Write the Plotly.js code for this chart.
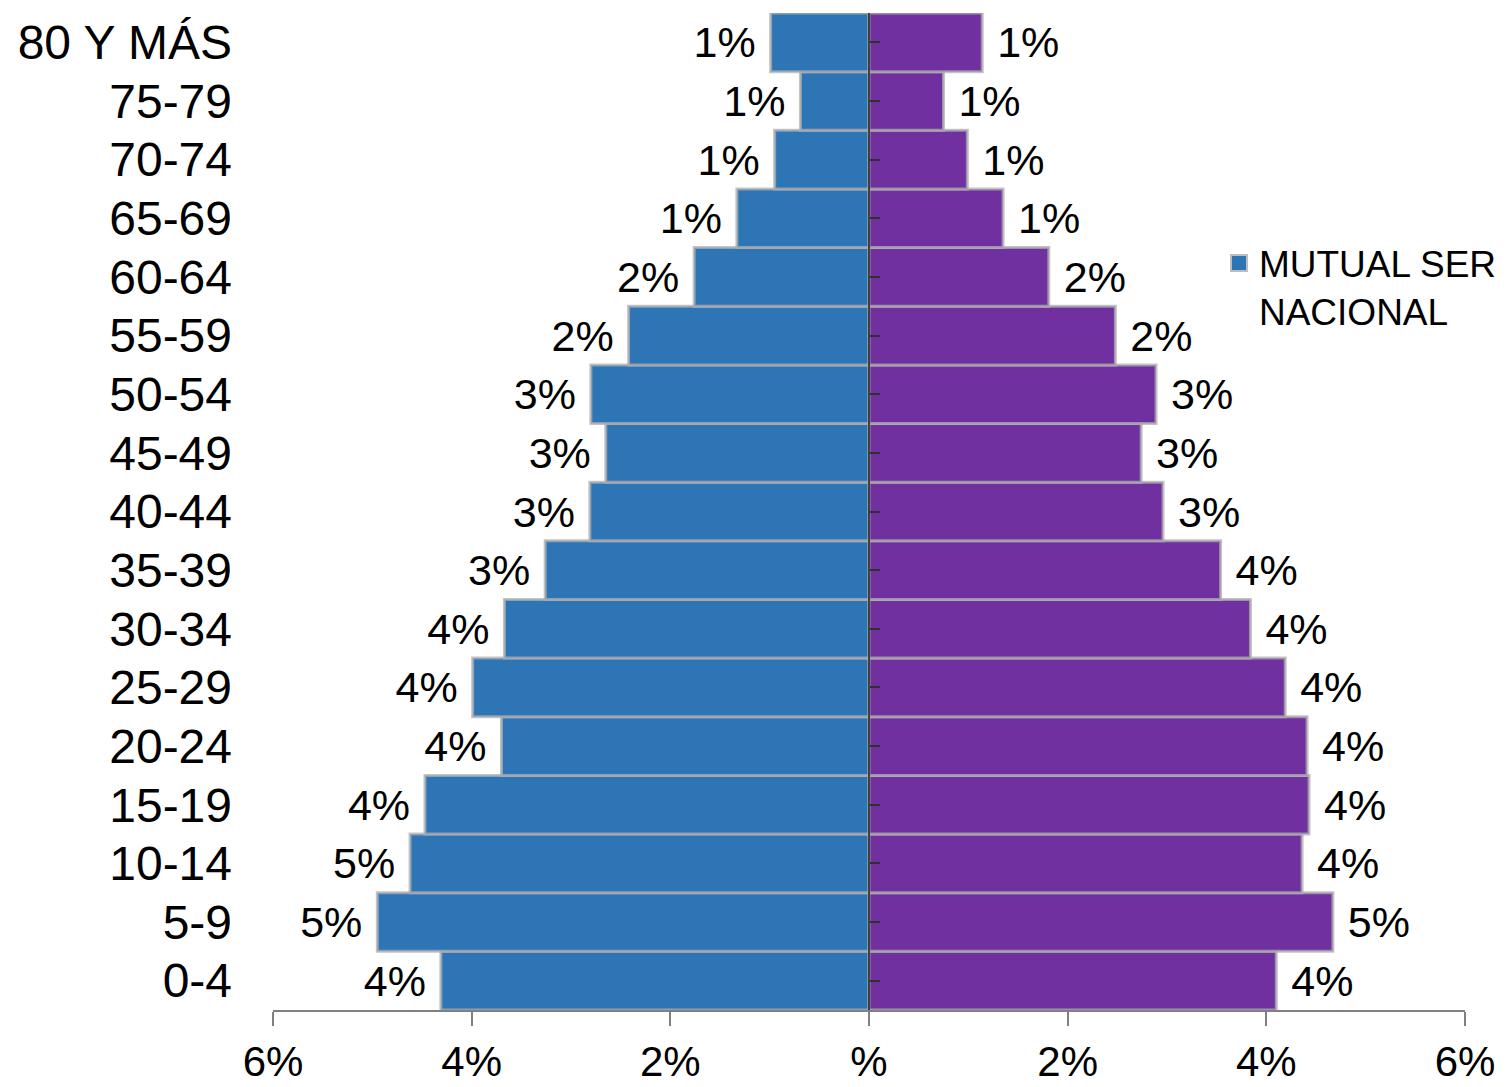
<!DOCTYPE html>
<html>
<head>
<meta charset="utf-8">
<script src="https://cdn.plot.ly/plotly-3.0.1.min.js"></script>
<style>html,body{margin:0;padding:0;background:#fff;}#chart{width:1506px;height:1087px;}</style>
</head>
<body>
<div id="chart"></div>
<script>
// Age groups, bottom to top
var ageGroups = ['0-4','5-9','10-14','15-19','20-24','25-29','30-34','35-39','40-44','45-49','50-54','55-59','60-64','65-69','70-74','75-79','80 Y MÁS'];
// Percent of population
var mutualSer = [4.31,4.95,4.62,4.47,3.70,3.99,3.67,3.26,2.81,2.65,2.80,2.42,1.76,1.33,0.95,0.69,0.99];
var nacional  = [4.10,4.67,4.36,4.43,4.41,4.19,3.84,3.54,2.96,2.74,2.89,2.48,1.81,1.35,0.99,0.75,1.14];
// X axis ticks
var xTickVals = [-6,-4,-2,0,2,4,6];
var xTickText = ['6%','4%','2%','%','2%','4%','6%'];
var legendName = 'MUTUAL SER<br>NACIONAL';

var regular = '"Liberation Sans", Arial, sans-serif';
var borderLine = {color:'rgba(175,175,175,0.75)', width:3};
var blue = '#2E75B6', purple = '#7030A0';

var traces = [
  {
    type:'bar', orientation:'h', name:'MUTUAL SER', showlegend:false,
    y: ageGroups, x: mutualSer.map(function(v){return -v;}),
    customdata: mutualSer,
    texttemplate: '%{customdata:.0f}%\u00a0', textposition:'outside',
    textfont:{family:regular, size:43, color:'#000'},
    constraintext:'none', cliponaxis:false,
    marker:{color:blue, line:borderLine},
    hoverinfo:'skip'
  },
  {
    type:'bar', orientation:'h', name:'NACIONAL', showlegend:false,
    y: ageGroups, x: nacional, yaxis:'y2',
    customdata: nacional,
    texttemplate: '\u00a0%{customdata:.0f}%', textposition:'outside',
    textfont:{family:regular, size:43, color:'#000'},
    constraintext:'none', cliponaxis:false,
    marker:{color:purple, line:borderLine},
    hoverinfo:'skip'
  },
  {
    type:'scatter', mode:'markers', name:legendName, showlegend:true,
    x:[null], y:[null],
    marker:{symbol:'square', size:20, color:blue, line:{color:'#bdbdbd', width:2}},
    hoverinfo:'skip'
  }
];

var layout = {
  width:1506, height:1087,
  margin:{l:273, r:41, t:13, b:77, autoexpand:false},
  paper_bgcolor:'#fff', plot_bgcolor:'#fff',
  barmode:'overlay', bargap:0,
  showlegend:true,
  legend:{x:0.7936, y:0.780, xanchor:'left', yanchor:'top', valign:'top', itemsizing:'trace',
          font:{family:regular, size:37, color:'#000'}, bgcolor:'rgba(0,0,0,0)', itemwidth:30},
  xaxis:{range:[-6,6], tickvals:xTickVals, ticktext:xTickText,
         showgrid:false, zeroline:false, showline:true, linecolor:'#808080', linewidth:2,
         ticks:'outside', ticklen:14, tickwidth:2, tickcolor:'#808080',
         ticklabelstandoff:0,
         tickfont:{family:regular, size:42, color:'#000'}, fixedrange:true},
  yaxis:{type:'category', range:[-0.5,16.5], showgrid:false, zeroline:false, showline:false,
         ticks:'', ticklabelstandoff:40,
         tickfont:{family:regular, size:48, color:'#000'}, fixedrange:true},
  yaxis2:{type:'category', overlaying:'y', anchor:'free', position:0.5, side:'right',
          range:[-0.5,16.5], showticklabels:false,
          showgrid:false, zeroline:false, showline:true, linecolor:'#404040', linewidth:2,
          ticks:'outside', ticklen:10, tickwidth:2, tickcolor:'#303030',
          fixedrange:true}
};

Plotly.newPlot('chart', traces, layout, {displayModeBar:false, staticPlot:true});
</script>
</body>
</html>
